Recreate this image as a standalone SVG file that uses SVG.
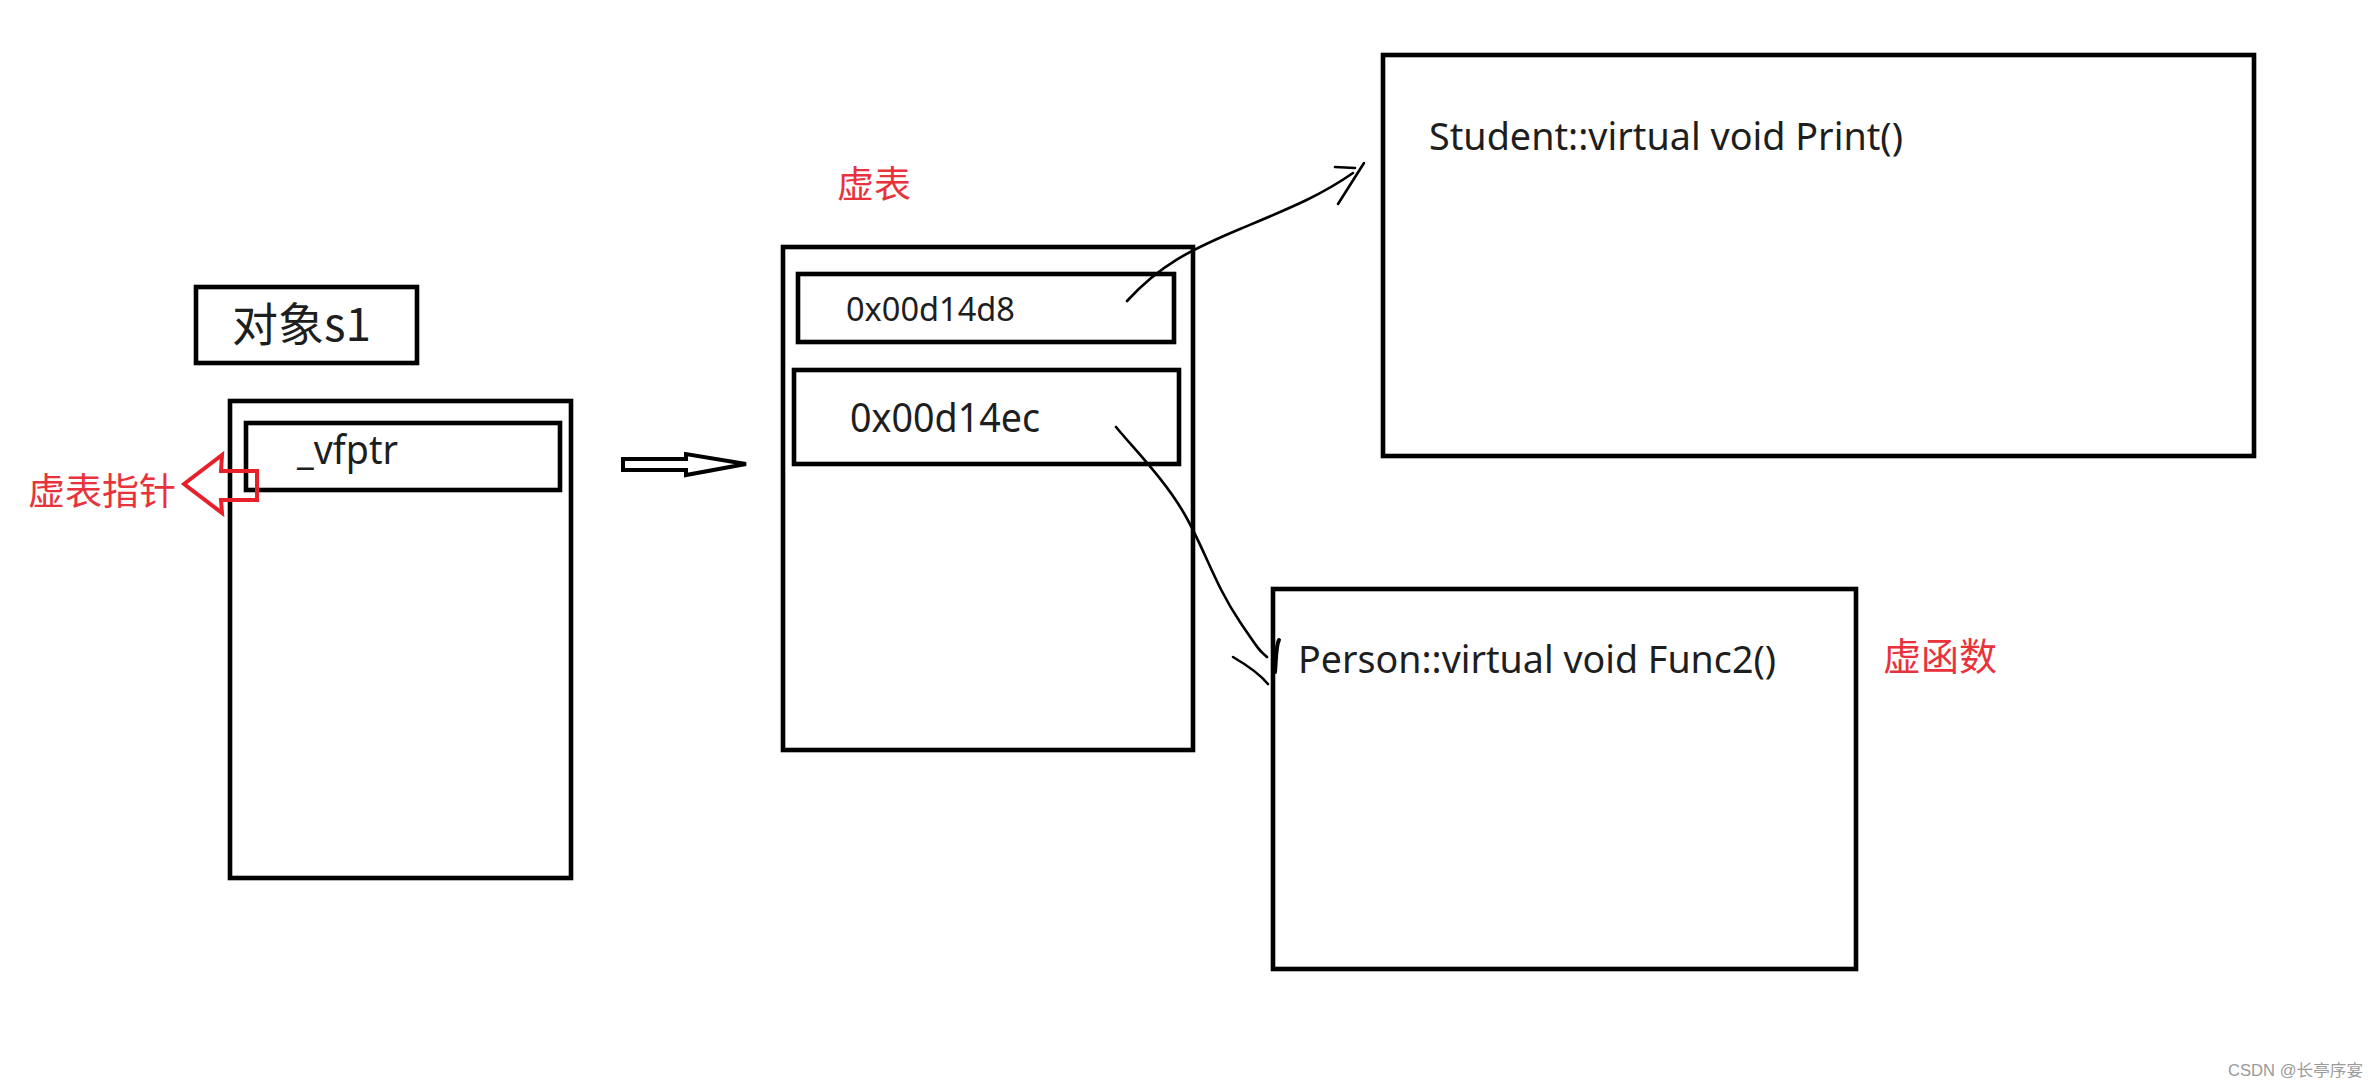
<svg xmlns="http://www.w3.org/2000/svg" width="2379" height="1088" viewBox="0 0 2379 1088">
<style>
.box{fill:none;stroke:#000;stroke-width:4.6}
.t{font-family:"Noto Sans","Open Sans","Noto Sans CJK SC",sans-serif;fill:#1e1e1e}
.r{font-family:"Noto Sans CJK SC","Noto Sans",sans-serif;fill:#e8323c}
.cn{font-family:"Noto Sans CJK SC","Noto Sans",sans-serif;fill:#1e1e1e}
.ink{fill:none;stroke:#000;stroke-width:2.6;stroke-linecap:round;stroke-linejoin:round}
</style>
<rect width="2379" height="1088" fill="#fff"/>
<g id="s1-title">
<rect class="box" x="196" y="287" width="221" height="76"/>
<text class="cn" x="232" y="341" font-size="46" textLength="139" lengthAdjust="spacingAndGlyphs">对象s1</text>
</g>
<g id="s1-object">
<rect class="box" x="230" y="401" width="341" height="477"/>
<rect class="box" x="246" y="423" width="314" height="67" stroke-width="5"/>
<text class="t" x="297" y="464" font-size="40" textLength="101" lengthAdjust="spacingAndGlyphs">_vfptr</text>
</g>
<g id="vptr-label">
<polygon points="184,484 222,455 221,471 257,471 257,500 221,500 222,513" fill="none" stroke="#e8202a" stroke-width="4" stroke-linejoin="miter"/>
<text class="r" x="28" y="505" font-size="37" textLength="148" lengthAdjust="spacingAndGlyphs">虚表指针</text>
</g>
<g id="vtable">
<text class="r" x="837" y="198" font-size="37" textLength="74" lengthAdjust="spacingAndGlyphs">虚表</text>
<rect class="box" x="783" y="247" width="410" height="503"/>
<rect class="box" x="798" y="274" width="376" height="68" stroke-width="5.4"/>
<text class="t" x="846" y="321" font-size="33" textLength="169" lengthAdjust="spacingAndGlyphs">0x00d14d8</text>
<rect class="box" x="794" y="370" width="385" height="94"/>
<text class="t" x="850" y="432" font-size="40" textLength="190" lengthAdjust="spacingAndGlyphs">0x00d14ec</text>
</g>
<g id="student-print">
<rect class="box" x="1383" y="55" width="871" height="401" stroke-width="5.2"/>
<text class="t" x="1429" y="150" font-size="39" textLength="474" lengthAdjust="spacingAndGlyphs">Student::virtual void Print()</text>
</g>
<g id="person-func2">
<rect class="box" x="1273" y="589" width="583" height="380"/>
<text class="t" x="1298" y="673" font-size="39" textLength="478" lengthAdjust="spacingAndGlyphs">Person::virtual void Func2()</text>
<text class="r" x="1883" y="670" font-size="38" textLength="114" lengthAdjust="spacingAndGlyphs">虚函数</text>
</g>
<g id="connectors">
<polygon points="623,459 686,459 686,454 746,464 686,475 686,470 623,470" fill="none" stroke="#000" stroke-width="4" stroke-linejoin="miter"/>
<path class="ink" d="M1127,301 C1160,265 1190,250 1240,229 S1320,196 1353,173"/>
<path class="ink" d="M1335,167 L1355,168 M1364,163 L1338,204"/>
<path class="ink" d="M1116,427 C1135,450 1165,480 1185,515 S1215,585 1240,622 S1260,650 1267,657"/>
<path class="ink" d="M1233,657 C1245,664 1258,672 1268,684"/>
<path d="M1279,640 C1276,645 1276,660 1275,672" fill="none" stroke="#000" stroke-width="4" stroke-linecap="round"/>
</g>
<text x="2228" y="1076" font-family="'Liberation Sans','Noto Sans CJK SC',sans-serif" font-size="16" fill="#9a9a9a" textLength="135" lengthAdjust="spacingAndGlyphs">CSDN @长亭序宴</text>
</svg>
